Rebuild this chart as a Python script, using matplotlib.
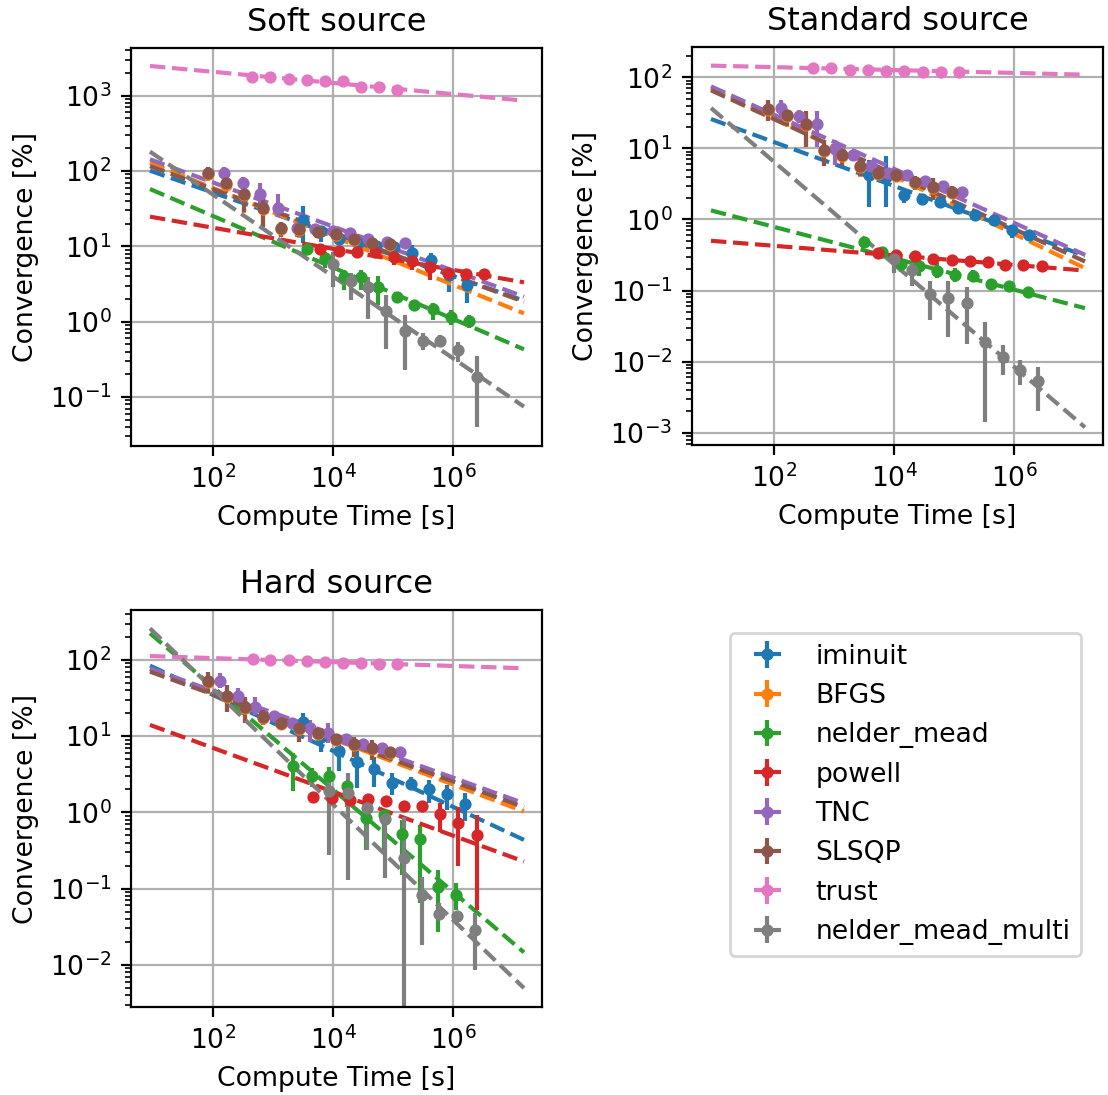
import numpy as np
import matplotlib.pyplot as plt
from matplotlib.ticker import FixedLocator, NullLocator

plt.rcParams['font.size'] = 9.6

names = ['iminuit', 'BFGS', 'nelder_mead', 'powell', 'TNC', 'SLSQP', 'trust', 'nelder_mead_multi']
titles = ['Soft source', 'Standard source', 'Hard source']
fit_x = [9.0, 1.49e7]

# ---------------- soft source ----------------
soft_iminuit_x = [3130, 6310, 12600, 25400, 51200, 103000, 208000, 420000, 847000, 1710000]
soft_iminuit_y = [22.4, 16.1, 12.5, 11.2, 10.1, 9.9, 8.24, 6.58, 4.16, 3.07]
soft_iminuit_lo = [11.0, 11.5, 11.5, 10.4, 9.3, 9.2, 6.6, 5.1, 2.5, 1.75]
soft_iminuit_hi = [34.7, 18.2, 13.5, 12.0, 10.9, 10.6, 10.4, 8.07, 4.85, 3.57]
soft_iminuit_fit = [101, 1.90]

soft_BFGS_x = [83, 166, 331, 676, 1350, 2750, 5500, 11000, 22400, 44700, 89100]
soft_BFGS_y = [92, 66, 48, 31, 17.0, 16.3, 15.3, 14.0, 12.1, 10.9, 10.4]
soft_BFGS_lo = [74, 51, 28, 18, 13.2, 13.0, 13.4, 12.9, 11.1, 9.9, 9.5]
soft_BFGS_hi = [110, 78, 60, 44, 20.5, 19.3, 17.2, 15.2, 13.1, 11.9, 11.3]
soft_BFGS_fit = [129, 1.29]

soft_nelder_mead_x = [3650, 7360, 14900, 28800, 56600, 114000, 225000, 454000, 914000, 1820000]
soft_nelder_mead_y = [9.23, 6.93, 3.87, 3.87, 2.92, 2.15, 1.66, 1.46, 1.16, 1.02]
soft_nelder_mead_lo = [8.7, 5.1, 2.63, 2.63, 1.66, 1.75, 1.53, 1.05, 0.9, 0.83]
soft_nelder_mead_hi = [9.8, 8.5, 4.85, 4.85, 4.0, 2.38, 1.79, 1.75, 1.43, 1.23]
soft_nelder_mead_fit = [57.7, 0.43]

soft_powell_x = [6080, 12300, 24700, 49900, 101000, 203000, 409000, 826000, 1630000, 3240000]
soft_powell_y = [9.23, 8.67, 8.32, 8.32, 7.29, 6.46, 5.26, 4.39, 4.25, 4.25]
soft_powell_lo = [8.7, 8.2, 7.8, 7.8, 5.65, 4.85, 3.57, 3.57, 4.0, 4.0]
soft_powell_hi = [9.8, 9.2, 8.8, 8.8, 8.5, 7.3, 6.0, 4.85, 4.5, 4.5]
soft_powell_fit = [24.8, 3.33]

soft_TNC_x = [156, 315, 612, 1230, 2490, 4900, 9860, 19200, 38600, 78000, 154000]
soft_TNC_y = [95, 70, 49.5, 31.9, 17.7, 17.0, 16.1, 14.9, 12.5, 11.5, 11.0]
soft_TNC_lo = [80, 59, 37, 24.8, 13.4, 15.6, 14.8, 13.7, 11.5, 10.6, 10.1]
soft_TNC_hi = [114, 84, 70, 49.5, 19.3, 18.4, 17.4, 16.1, 13.5, 12.4, 11.9]
soft_TNC_fit = [143, 2.15]

soft_SLSQP_x = [83, 166, 331, 676, 1350, 2750, 5500, 11000, 22400, 44700, 89100]
soft_SLSQP_y = [95, 68.5, 49.5, 31.9, 17.3, 16.8, 15.7, 14.4, 12.4, 11.2, 10.7]
soft_SLSQP_lo = [77, 53, 29, 18.2, 13.4, 13.2, 13.8, 13.3, 11.5, 10.2, 9.8]
soft_SLSQP_hi = [114, 80, 62, 45.6, 21.2, 19.8, 17.5, 15.5, 13.3, 12.2, 11.6]
soft_SLSQP_fit = [116, 1.84]

soft_trust_x = [445, 897, 1810, 3650, 7360, 14500, 28800, 57400, 114000]
soft_trust_y = [1750, 1750, 1650, 1600, 1580, 1560, 1320, 1290, 1190]
soft_trust_lo = [1650, 1650, 1560, 1510, 1490, 1470, 1240, 1210, 1120]
soft_trust_hi = [1850, 1850, 1740, 1690, 1670, 1650, 1400, 1370, 1260]
soft_trust_fit = [2480, 859]

soft_nmm_x = [9890, 19700, 38600, 76000, 154000, 309000, 600000, 1210000, 2440000]
soft_nmm_y = [5.82, 3.50, 2.86, 1.40, 0.76, 0.56, 0.553, 0.421, 0.182]
soft_nmm_lo = [2.92, 1.94, 1.1, 0.43, 0.23, 0.42, 0.46, 0.294, 0.04]
soft_nmm_hi = [8.5, 4.39, 3.95, 2.26, 1.21, 0.70, 0.66, 0.543, 0.354]
soft_nmm_fit = [181, 0.0745]

# ---------------- standard source ----------------
std_iminuit_x = [3830, 7450, 14700, 28900, 57700, 114000, 224000, 453000, 904000, 1780000]
std_iminuit_y = [4.2, 4.0, 2.22, 1.93, 1.75, 1.45, 1.16, 0.99, 0.70, 0.61]
std_iminuit_lo = [1.52, 1.52, 1.71, 1.62, 1.44, 1.23, 0.94, 0.80, 0.55, 0.52]
std_iminuit_hi = [6.92, 7.71, 2.62, 2.30, 2.12, 1.70, 1.36, 1.10, 0.84, 0.68]
std_iminuit_fit = [25.9, 0.308]

std_BFGS_x = [80.5, 167, 337, 681, 1380, 2710, 5480, 10900, 22100, 44700, 90400]
std_BFGS_y = [35, 29, 21.5, 9.3, 7.7, 5.5, 4.4, 4.05, 3.25, 2.75, 2.35]
std_BFGS_lo = [24, 20, 10.5, 5.8, 5.6, 4.0, 3.6, 3.7, 2.6, 1.9, 2.0]
std_BFGS_hi = [47, 35, 33, 13, 9.5, 7.2, 5.2, 4.5, 4.0, 3.8, 2.9]
std_BFGS_fit = [70.8, 0.2065]

std_nelder_mead_x = [3160, 6400, 12900, 25500, 50800, 103000, 202000, 408000, 826000, 1670000]
std_nelder_mead_y = [0.474, 0.343, 0.235, 0.218, 0.189, 0.166, 0.161, 0.123, 0.117, 0.095]
std_nelder_mead_lo = [0.45, 0.32, 0.18, 0.16, 0.15, 0.13, 0.13, 0.113, 0.108, 0.087]
std_nelder_mead_hi = [0.50, 0.365, 0.285, 0.27, 0.243, 0.207, 0.195, 0.133, 0.126, 0.103]
std_nelder_mead_fit = [1.34, 0.0564]

std_powell_x = [5480, 10900, 22100, 44700, 90400, 182000, 360000, 708000, 1410000, 2860000]
std_powell_y = [0.336, 0.318, 0.301, 0.279, 0.270, 0.256, 0.251, 0.225, 0.225, 0.222]
std_powell_lo = [0.32, 0.302, 0.286, 0.265, 0.256, 0.243, 0.238, 0.214, 0.214, 0.211]
std_powell_hi = [0.353, 0.334, 0.316, 0.293, 0.284, 0.269, 0.264, 0.236, 0.236, 0.233]
std_powell_fit = [0.501, 0.191]

std_TNC_x = [129, 261, 514, 1030, 2080, 4080, 8050, 16300, 32400, 65600, 132000]
std_TNC_y = [37, 28.8, 22.0, 9.79, 7.96, 5.70, 4.50, 4.17, 3.43, 2.92, 2.43]
std_TNC_lo = [26.7, 22.8, 10.4, 5.9, 7.1, 5.2, 4.1, 3.8, 3.1, 2.6, 2.2]
std_TNC_hi = [47.4, 35, 33.2, 13.2, 8.8, 6.2, 4.9, 4.5, 3.75, 3.2, 2.65]
std_TNC_fit = [74.6, 0.318]

std_SLSQP_x = [80.5, 167, 337, 681, 1380, 2710, 5480, 10900, 22100, 44700, 90400]
std_SLSQP_y = [36.2, 29.8, 22.2, 9.57, 7.96, 5.70, 4.50, 4.17, 3.36, 2.82, 2.43]
std_SLSQP_lo = [24, 20.4, 10.4, 5.7, 5.57, 4.04, 3.62, 3.75, 2.62, 1.89, 2.0]
std_SLSQP_hi = [48.4, 35.1, 33.2, 13.2, 9.57, 7.31, 5.28, 4.6, 4.04, 3.82, 2.92]
std_SLSQP_fit = [65.6, 0.256]

std_trust_x = [447, 903, 1820, 3690, 7450, 14700, 29700, 60000, 118000]
std_trust_y = [135, 134, 127, 127, 124, 123, 120, 120, 119]
std_trust_lo = [130, 129, 122, 122, 119, 118, 115, 115, 114]
std_trust_hi = [140, 139, 132, 132, 129, 128, 125, 125, 124]
std_trust_fit = [146, 109]

std_nmm_x = [10000, 19700, 39800, 79400, 161000, 324000, 640000, 1260000, 2510000]
std_nmm_y = [0.276, 0.195, 0.0897, 0.0796, 0.0664, 0.0191, 0.0117, 0.00764, 0.00535]
std_nmm_lo = [0.175, 0.114, 0.0386, 0.022, 0.0177, 0.0014, 0.0065, 0.0047, 0.00204]
std_nmm_hi = [0.336, 0.243, 0.138, 0.134, 0.111, 0.0366, 0.0172, 0.01055, 0.0085]
std_nmm_fit = [37.0, 0.00119]

# ---------------- hard source ----------------
hard_iminuit_x = [3130, 6240, 12300, 24700, 48600, 96800, 195000, 389000, 774000, 1560000]
hard_iminuit_y = [15.5, 9.86, 6.47, 4.65, 3.68, 2.42, 2.37, 2.03, 1.75, 1.29]
hard_iminuit_lo = [12.1, 6.28, 3.54, 2.07, 2.18, 1.69, 1.97, 1.33, 1.07, 0.76]
hard_iminuit_hi = [20, 12.7, 9.86, 7.3, 5.4, 3.27, 2.95, 2.67, 2.29, 1.78]
hard_iminuit_fit = [84.3, 0.4355]

hard_BFGS_x = [82.6, 171, 336, 678, 1370, 2750, 5560, 11100, 22300, 45100, 88500]
hard_BFGS_y = [51, 33, 23.5, 17.5, 14.6, 12.3, 10.8, 8.9, 7.7, 6.8, 6.1]
hard_BFGS_lo = [36, 21, 15, 14, 13, 8.5, 9.2, 7.8, 5.4, 4.9, 5.3]
hard_BFGS_hi = [68, 46, 32, 21.5, 16.5, 14.5, 12.7, 10.3, 9.7, 8.7, 7.1]
hard_BFGS_fit = [75.5, 1.026]

hard_nelder_mead_x = [2190, 4420, 8690, 17300, 34900, 69500, 138000, 275000, 550000, 1110000]
hard_nelder_mead_y = [4.11, 3.04, 3.04, 2.25, 0.85, 0.92, 0.518, 0.445, 0.1045, 0.0828]
hard_nelder_mead_lo = [1.93, 2.18, 2.18, 1.19, 0.32, 0.32, 0.151, 0.064, 0.0273, 0.053]
hard_nelder_mead_hi = [5.97, 3.79, 3.99, 2.46, 1.6, 1.1, 0.798, 0.69, 0.176, 0.118]
hard_nelder_mead_fit = [224, 0.01452]

hard_powell_x = [4710, 9510, 18700, 37700, 75000, 151000, 301000, 600000, 1210000, 2440000]
hard_powell_y = [1.58, 1.53, 1.46, 1.49, 1.39, 1.22, 1.22, 0.955, 0.721, 0.507]
hard_powell_lo = [1.45, 1.41, 1.35, 1.38, 1.28, 1.12, 1.12, 0.55, 0.195, 0.0526]
hard_powell_hi = [1.71, 1.65, 1.57, 1.6, 1.5, 1.32, 1.32, 1.32, 1.19, 0.927]
hard_powell_fit = [14.06, 0.2265]

hard_TNC_x = [129, 257, 506, 1020, 2060, 4150, 8150, 16300, 31900, 64400, 130000]
hard_TNC_y = [53.1, 33.7, 24.4, 18.5, 15.1, 12.7, 11.1, 9.12, 7.91, 6.95, 6.28]
hard_TNC_lo = [42.5, 27, 19, 16.3, 13.6, 8.5, 8.1, 8.2, 7.1, 6.2, 5.6]
hard_TNC_hi = [66.9, 42.5, 33, 20.7, 16.6, 16.3, 14.8, 10.0, 8.7, 7.7, 7.0]
hard_TNC_fit = [77.8, 1.318]

hard_SLSQP_x = [82.6, 171, 336, 678, 1370, 2750, 5560, 11100, 22300, 45100, 88500]
hard_SLSQP_y = [53.1, 34.0, 24.4, 18.1, 15.1, 12.7, 11.1, 9.12, 7.91, 6.95, 6.28]
hard_SLSQP_lo = [36.6, 21, 15.1, 14, 13.6, 8.5, 9.3, 8, 5.4, 4.9, 5.4]
hard_SLSQP_hi = [70.3, 47, 33, 22, 16.6, 14.8, 13, 10.5, 9.9, 8.93, 7.3]
hard_SLSQP_fit = [70.3, 1.17]

hard_trust_x = [456, 908, 1830, 3700, 7360, 14500, 28800, 57400, 114000]
hard_trust_y = [102, 100, 99, 97, 95, 91, 90, 89.5, 89]
hard_trust_lo = [98, 96, 95, 93, 91, 87, 86, 86, 85]
hard_trust_hi = [106, 104, 103, 101, 99, 95, 94, 93, 93]
hard_trust_fit = [112.7, 77.8]

hard_nmm_x = [8690, 17500, 36300, 73100, 148000, 298000, 585000, 1140000, 2290000]
hard_nmm_y = [1.93, 1.78, 1.13, 0.822, 0.251, 0.0828, 0.0467, 0.043, 0.0282]
hard_nmm_lo = [0.277, 0.130, 0.322, 0.137, 0.0001, 0.0183, 0.0389, 0.0389, 0.0086]
hard_nmm_hi = [3.10, 3.27, 1.53, 1.08, 0.88, 0.144, 0.0644, 0.050, 0.0476]
hard_nmm_fit = [260, 0.00494]

panels = [
    [(soft_iminuit_x, soft_iminuit_y, soft_iminuit_lo, soft_iminuit_hi, soft_iminuit_fit),
     (soft_BFGS_x, soft_BFGS_y, soft_BFGS_lo, soft_BFGS_hi, soft_BFGS_fit),
     (soft_nelder_mead_x, soft_nelder_mead_y, soft_nelder_mead_lo, soft_nelder_mead_hi, soft_nelder_mead_fit),
     (soft_powell_x, soft_powell_y, soft_powell_lo, soft_powell_hi, soft_powell_fit),
     (soft_TNC_x, soft_TNC_y, soft_TNC_lo, soft_TNC_hi, soft_TNC_fit),
     (soft_SLSQP_x, soft_SLSQP_y, soft_SLSQP_lo, soft_SLSQP_hi, soft_SLSQP_fit),
     (soft_trust_x, soft_trust_y, soft_trust_lo, soft_trust_hi, soft_trust_fit),
     (soft_nmm_x, soft_nmm_y, soft_nmm_lo, soft_nmm_hi, soft_nmm_fit)],
    [(std_iminuit_x, std_iminuit_y, std_iminuit_lo, std_iminuit_hi, std_iminuit_fit),
     (std_BFGS_x, std_BFGS_y, std_BFGS_lo, std_BFGS_hi, std_BFGS_fit),
     (std_nelder_mead_x, std_nelder_mead_y, std_nelder_mead_lo, std_nelder_mead_hi, std_nelder_mead_fit),
     (std_powell_x, std_powell_y, std_powell_lo, std_powell_hi, std_powell_fit),
     (std_TNC_x, std_TNC_y, std_TNC_lo, std_TNC_hi, std_TNC_fit),
     (std_SLSQP_x, std_SLSQP_y, std_SLSQP_lo, std_SLSQP_hi, std_SLSQP_fit),
     (std_trust_x, std_trust_y, std_trust_lo, std_trust_hi, std_trust_fit),
     (std_nmm_x, std_nmm_y, std_nmm_lo, std_nmm_hi, std_nmm_fit)],
    [(hard_iminuit_x, hard_iminuit_y, hard_iminuit_lo, hard_iminuit_hi, hard_iminuit_fit),
     (hard_BFGS_x, hard_BFGS_y, hard_BFGS_lo, hard_BFGS_hi, hard_BFGS_fit),
     (hard_nelder_mead_x, hard_nelder_mead_y, hard_nelder_mead_lo, hard_nelder_mead_hi, hard_nelder_mead_fit),
     (hard_powell_x, hard_powell_y, hard_powell_lo, hard_powell_hi, hard_powell_fit),
     (hard_TNC_x, hard_TNC_y, hard_TNC_lo, hard_TNC_hi, hard_TNC_fit),
     (hard_SLSQP_x, hard_SLSQP_y, hard_SLSQP_lo, hard_SLSQP_hi, hard_SLSQP_fit),
     (hard_trust_x, hard_trust_y, hard_trust_lo, hard_trust_hi, hard_trust_fit),
     (hard_nmm_x, hard_nmm_y, hard_nmm_lo, hard_nmm_hi, hard_nmm_fit)],
]
ylims = [(0.0224, 4295), (6.7e-4, 267), (2.79e-3, 453)]

W, H = 1108, 1095
fig = plt.figure(figsize=(W / 200, H / 200), dpi=200)
# axes boxes in pixels: left, top, right, bottom
boxes = [(131, 48, 542, 446), (692, 47, 1103, 445), (131, 610, 542, 1007)]

handles = None
for k, series in enumerate(panels):
    l, t, r, b = boxes[k]
    ax = fig.add_axes([l / W, 1 - b / H, (r - l) / W, (b - t) / H])
    ax.set_xscale('log')
    ax.set_yscale('log')
    hs = []
    for i, (x, y, lo, hi, fit) in enumerate(series):
        y = np.array(y)
        yerr = [y - np.array(lo), np.array(hi) - y]
        h = ax.errorbar(x, y, yerr=yerr, xerr=0, fmt='o', ms=3.4, color=f'C{i}', label=names[i])
        ax.plot(fit_x, fit, '--', color=f'C{i}')
        hs.append(h)
    if handles is None:
        handles = hs
    ax.set_xlim(4.35, 2.97e7)
    ax.set_ylim(*ylims[k])
    ax.xaxis.set_major_locator(FixedLocator([1e2, 1e4, 1e6]))
    ax.xaxis.set_minor_locator(NullLocator())
    ax.grid(True)
    ax.set_title(titles[k], fontsize='large')
    ax.set_xlabel('Compute Time [s]')
    ax.set_ylabel('Convergence [%]')

fig.legend(handles, names, loc='upper left', bbox_to_anchor=(730 / W, 1 - 633 / H),
           borderaxespad=0, labelspacing=0.5)

fig.savefig('out.png', dpi=200)
